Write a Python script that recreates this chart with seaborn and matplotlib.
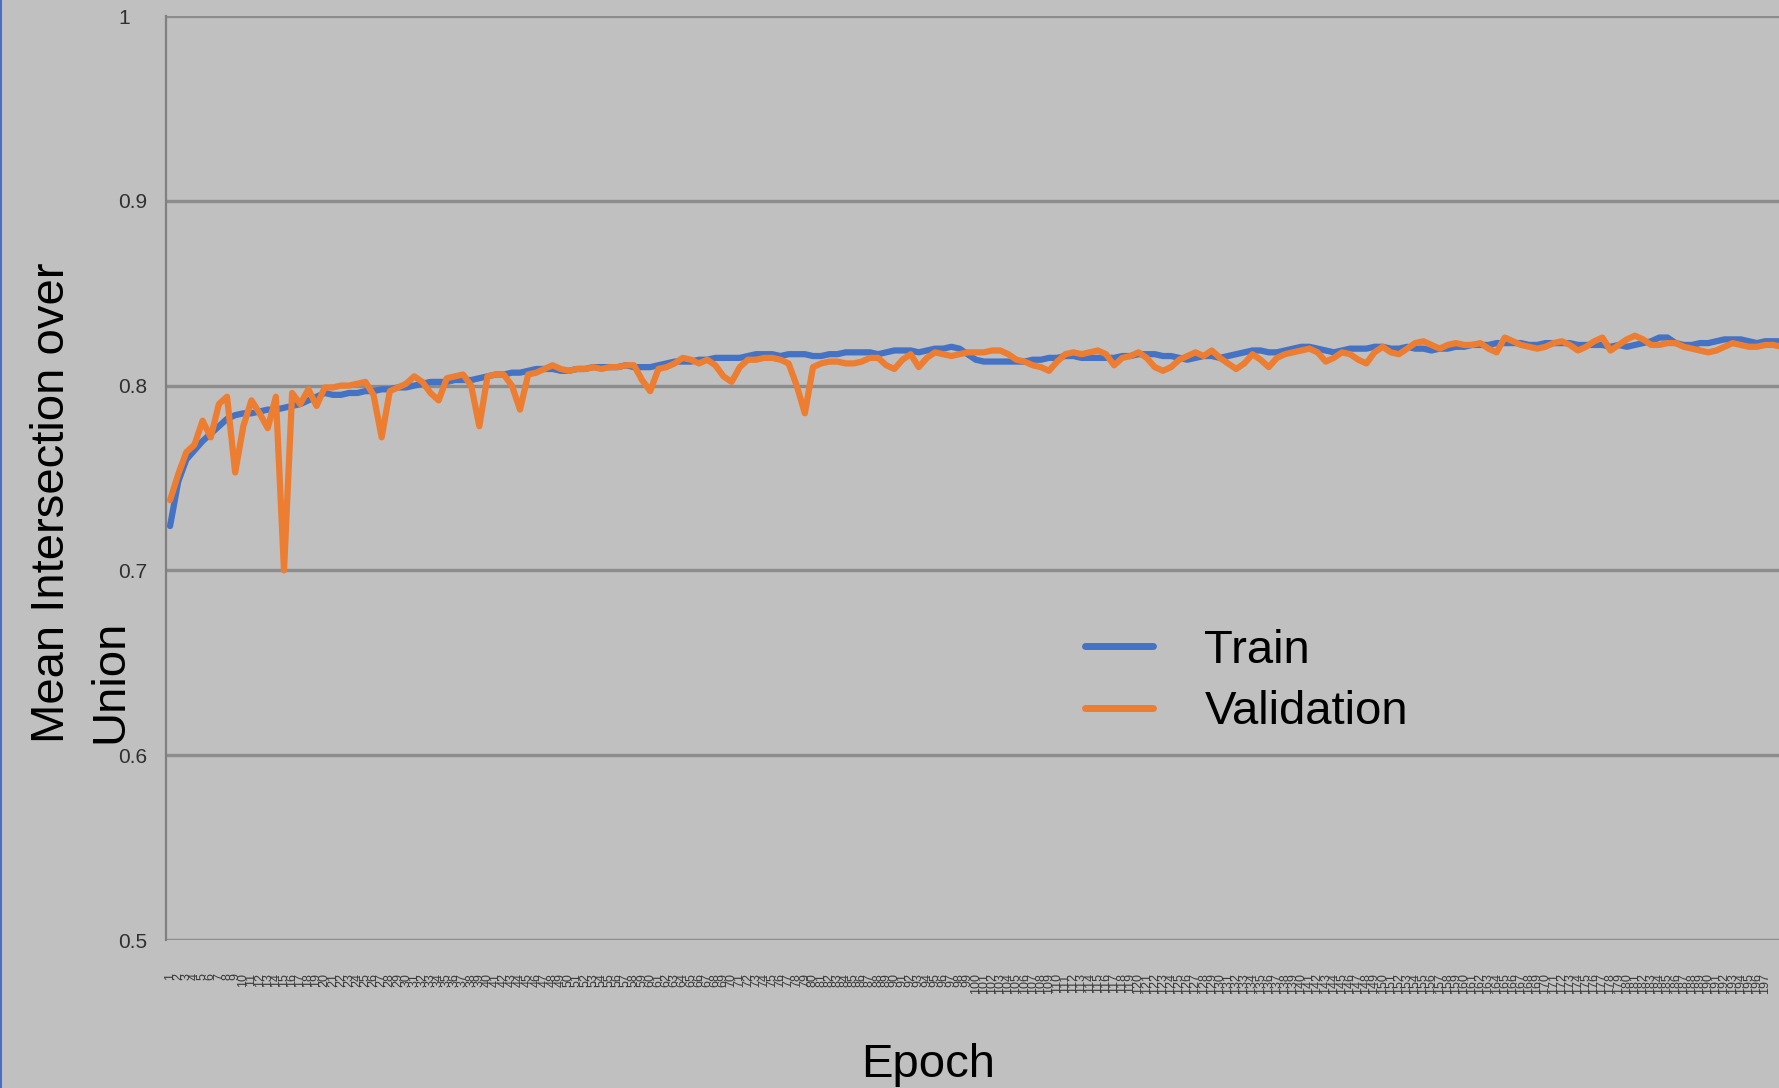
import numpy as np
import pandas as pd
import matplotlib
matplotlib.use("Agg")
import matplotlib.pyplot as plt
import seaborn as sns
from matplotlib.lines import Line2D

epochs = list(range(1, 201))

validation = [
    0.738, 0.752, 0.764, 0.768, 0.781, 0.772, 0.790, 0.794, 0.753, 0.778,
    0.792, 0.785, 0.777, 0.794, 0.700, 0.796, 0.790, 0.798, 0.789, 0.799,
    0.799, 0.800, 0.800, 0.801, 0.802, 0.795, 0.772, 0.797, 0.799, 0.801,
    0.805, 0.802, 0.796, 0.792, 0.804, 0.805, 0.806, 0.800, 0.778, 0.805,
    0.806, 0.806, 0.800, 0.787, 0.806, 0.807, 0.809, 0.811, 0.809, 0.808,
    0.809, 0.809, 0.810, 0.809, 0.810, 0.810, 0.811, 0.811, 0.803, 0.797,
    0.809, 0.810, 0.812, 0.815, 0.814, 0.812, 0.814, 0.811, 0.805, 0.802,
    0.810, 0.814, 0.814, 0.815, 0.815, 0.814, 0.812, 0.800, 0.785, 0.810,
    0.812, 0.813, 0.813, 0.812, 0.812, 0.813, 0.815, 0.815, 0.811, 0.809,
    0.814, 0.817, 0.810, 0.815, 0.818, 0.817, 0.816, 0.817, 0.818, 0.818,
    0.818, 0.819, 0.819, 0.817, 0.814, 0.813, 0.811, 0.810, 0.808, 0.813,
    0.817, 0.818, 0.817, 0.818, 0.819, 0.817, 0.811, 0.815, 0.816, 0.818,
    0.815, 0.810, 0.808, 0.810, 0.814, 0.816, 0.818, 0.816, 0.819, 0.815,
    0.812, 0.809, 0.812, 0.817, 0.814, 0.810, 0.815, 0.817, 0.818, 0.819,
    0.820, 0.818, 0.813, 0.815, 0.818, 0.817, 0.814, 0.812, 0.818, 0.821,
    0.818, 0.817, 0.820, 0.823, 0.824, 0.822, 0.820, 0.822, 0.823, 0.822,
    0.822, 0.823, 0.820, 0.818, 0.826, 0.824, 0.822, 0.821, 0.820, 0.821,
    0.823, 0.824, 0.822, 0.819, 0.821, 0.824, 0.826, 0.819, 0.822, 0.825,
    0.827, 0.825, 0.822, 0.822, 0.823, 0.823, 0.821, 0.820, 0.819, 0.818,
    0.819, 0.821, 0.823, 0.822, 0.821, 0.821, 0.822, 0.822, 0.821, 0.821,
]

train = [
    0.724, 0.748, 0.760, 0.765, 0.770, 0.774, 0.778, 0.782, 0.784, 0.785,
    0.785, 0.786, 0.787, 0.787, 0.788, 0.789, 0.790, 0.792, 0.794, 0.796,
    0.795, 0.795, 0.796, 0.796, 0.797, 0.797, 0.798, 0.798, 0.799, 0.799,
    0.800, 0.801, 0.802, 0.802, 0.802, 0.803, 0.803, 0.803, 0.804, 0.805,
    0.806, 0.806, 0.807, 0.807, 0.808, 0.809, 0.809, 0.809, 0.808, 0.808,
    0.809, 0.809, 0.810, 0.810, 0.810, 0.810, 0.811, 0.810, 0.810, 0.810,
    0.811, 0.812, 0.813, 0.813, 0.813, 0.814, 0.814, 0.815, 0.815, 0.815,
    0.815, 0.816, 0.817, 0.817, 0.817, 0.816, 0.817, 0.817, 0.817, 0.816,
    0.816, 0.817, 0.817, 0.818, 0.818, 0.818, 0.818, 0.817, 0.818, 0.819,
    0.819, 0.819, 0.818, 0.819, 0.820, 0.820, 0.821, 0.820, 0.817, 0.814,
    0.813, 0.813, 0.813, 0.813, 0.813, 0.813, 0.814, 0.814, 0.815, 0.815,
    0.816, 0.816, 0.815, 0.815, 0.815, 0.815, 0.815, 0.816, 0.816, 0.817,
    0.817, 0.817, 0.816, 0.816, 0.815, 0.814, 0.815, 0.816, 0.816, 0.815,
    0.816, 0.817, 0.818, 0.819, 0.819, 0.818, 0.818, 0.819, 0.820, 0.821,
    0.821, 0.820, 0.819, 0.818, 0.819, 0.820, 0.820, 0.820, 0.821, 0.821,
    0.820, 0.820, 0.821, 0.820, 0.820, 0.819, 0.820, 0.820, 0.821, 0.821,
    0.822, 0.822, 0.822, 0.823, 0.823, 0.823, 0.823, 0.822, 0.822, 0.823,
    0.823, 0.823, 0.823, 0.822, 0.822, 0.822, 0.822, 0.821, 0.822, 0.821,
    0.822, 0.823, 0.824, 0.826, 0.826, 0.823, 0.822, 0.822, 0.823, 0.823,
    0.824, 0.825, 0.825, 0.825, 0.824, 0.823, 0.824, 0.824, 0.824, 0.824,
]

series_names = ["Train", "Validation"]
y_ticks = [0.5, 0.6, 0.7, 0.8, 0.9, 1.0]
y_tick_labels = ["0.5", "0.6", "0.7", "0.8", "0.9", "1"]
x_tick_epochs = epochs[:197]
y_label_lines = ["Mean Intersection over", "Union"]

df = pd.DataFrame({
    "Epoch": epochs * 2,
    "mIoU": train + validation,
    "Series": ["Train"] * len(train) + ["Validation"] * len(validation),
})

sns.set_theme(style="white")
plt.rcParams["font.family"] = ["Liberation Sans", "DejaVu Sans"]
plt.rcParams["text.color"] = "black"

BG = "#c0c0c0"
GRID = "#8c8c8c"
colors = {"Train": "#4472C4", "Validation": "#ED7D31"}

fig = plt.figure(figsize=(17.79, 10.88), dpi=100, facecolor=BG)
ax = fig.add_axes([166 / 1779, 1 - 940 / 1088, 1 - 166 / 1779, (940 - 16) / 1088])
ax.set_facecolor(BG)

sns.lineplot(data=df, x="Epoch", y="mIoU", hue="Series", palette=colors,
             hue_order=series_names, linewidth=4.5, legend=False, ax=ax,
             zorder=3)

ax.set_ylim(0.5, 1.0)
ax.set_xlim(0.5, 198.7)
ax.set_yticks(y_ticks)
ax.set_yticklabels(y_tick_labels)
ax.yaxis.grid(True, color=GRID, linewidth=2.4)
ax.xaxis.grid(False)
for s in ["top", "right", "bottom"]:
    ax.spines[s].set_visible(False)
ax.spines["left"].set_color("#808080")
ax.spines["left"].set_linewidth(1.6)

ax.tick_params(axis="y", length=0, pad=34.5, labelsize=15, labelcolor="#303030")
for lab in ax.get_yticklabels():
    lab.set_horizontalalignment("left")

ax.set_xticks(x_tick_epochs)
ax.set_xticklabels([str(e) for e in x_tick_epochs], rotation=90, fontsize=9,
                   color="#3a3a3a", va="top")
ax.tick_params(axis="x", length=0, pad=24)
ax.set_xlabel("")
ax.set_ylabel("")

# two-line y-axis title, left aligned (reads bottom to top)
fig.text(30 / 1779, 1 - 743 / 1088, y_label_lines[0], rotation=90,
         ha="left", va="bottom", fontsize=34, color="black")
fig.text(88 / 1779, 1 - 743 / 1088, y_label_lines[1], rotation=90,
         ha="left", va="bottom", fontsize=34, color="black")
fig.text(928 / 1779, 1 - 1077 / 1088, "Epoch", ha="center", va="baseline",
         fontsize=34, color="black")

handles = [Line2D([0], [0], color=colors[n], linewidth=5) for n in series_names]
leg = ax.legend(handles, series_names, loc="upper left",
                bbox_to_anchor=(1085 / 1779, 1 - 629 / 1088),
                bbox_transform=fig.transFigure, frameon=False, fontsize=34,
                handlelength=1.45, handletextpad=1.08, labelspacing=0.37,
                borderpad=0, borderaxespad=0, labelcolor="black")

fig.add_artist(Line2D([0.0006, 0.0006], [0, 1], color="#4a6fc0", linewidth=1.5,
                      transform=fig.transFigure))

fig.savefig("out.png", dpi=100, facecolor=BG)
